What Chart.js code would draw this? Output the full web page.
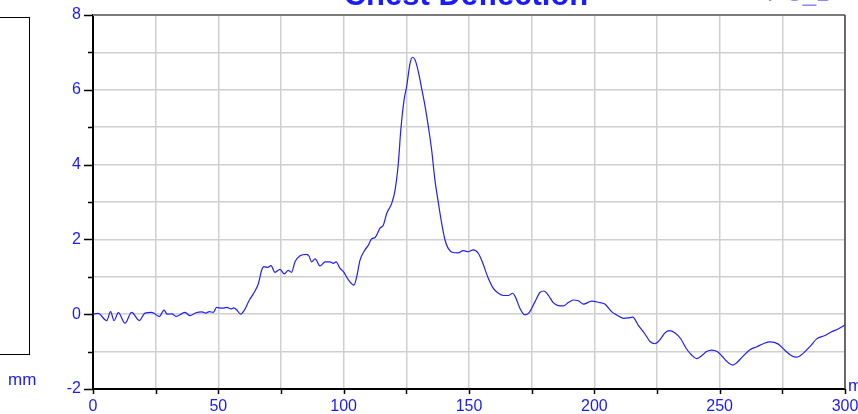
<!DOCTYPE html>
<html>
<head>
<meta charset="utf-8">
<script src="https://cdn.jsdelivr.net/npm/chart.js@4/dist/chart.umd.min.js"></script>
<style>
  body { margin: 0; background: #fff; }
  canvas { display: block; }
</style>
</head>
<body>
<canvas id="chestChart" width="858" height="414"></canvas>
<script>
// waktu (ms) dan defleksi dada (mm)
const timeMs = [
  0, 2, 5.5, 7, 8.4, 10.1, 12.8, 15.4, 18.5, 20.7, 23.4, 26.5, 28.3, 29.6, 31.5, 33.1,
  36.7, 38.7, 41.1, 43.5, 45, 46.4, 48, 49.3, 51.4, 53.5, 55, 56.2, 57.3, 58.9, 60.3,
  62.4, 64, 66, 67.3, 68.2, 69.8, 71, 72.6, 74.6, 76.3, 77.9, 79.2, 80.6, 82.6, 85.2,
  86.2, 87.2, 88.6, 90.6, 92.6, 94.5, 95.9, 97, 98.5, 99.9, 101.9, 104.1, 105.2, 106.5,
  108.5, 109.8, 111.2, 112.5, 114.5, 115.8, 117.2, 119.2, 120.5, 121.8, 122.8, 124.1,
  125.1, 126.5, 127.4, 128.5, 129.8, 131.1, 132.5, 133.8, 135.1, 136.4, 137.8, 139.1,
  140.4, 141.7, 143.6, 145.7, 147.7, 149.7, 151.7, 153.7, 155.3, 157.7, 159.7, 161.7,
  163.7, 165.7, 167.4, 168.7, 170.3, 172.3, 174, 176.3, 178.3, 179.9, 181.6, 183.6,
  185.6, 187.6, 189.6, 191.6, 193.6, 195.7, 198.9, 201.6, 204.2, 206.9, 208.9, 211.6,
  213.6, 215.3, 217.5, 220.2, 222.2, 224.2, 226.2, 228.2, 229.9, 232.2, 234.4, 236.8,
  238.8, 240.8, 242.8, 244.8, 246.8, 249, 250.8, 252.8, 255.2, 256.8, 258.1, 262.1,
  264.8, 267.4, 270.1, 273.4, 276.1, 278.7, 280.7, 283.4, 286.1, 288.7, 292, 294.7,
  297.4, 300
];
const chestDeflection = [
  0, 0.02, -0.17, 0.07, -0.17, 0.04, -0.24, 0.05, -0.17, 0.03, 0.05, -0.06, 0.11, 0.0, 0.01, -0.06,
  0.05, -0.04, 0.04, 0.06, 0.03, 0.07, 0.05, 0.18, 0.16, 0.18, 0.14, 0.17, 0.12, 0.0, 0.1,
  0.38, 0.55, 0.82, 1.18, 1.27, 1.25, 1.30, 1.12, 1.20, 1.08, 1.17, 1.12, 1.40, 1.56, 1.60,
  1.55, 1.40, 1.48, 1.29, 1.40, 1.40, 1.36, 1.40, 1.23, 1.14, 0.92, 0.78, 1.0, 1.44,
  1.72, 1.84, 2.02, 2.05, 2.30, 2.38, 2.70, 2.97, 3.32, 4.03, 4.93, 5.73,
  6.08, 6.71, 6.87, 6.80, 6.48, 6.04, 5.55, 5.01, 4.39, 3.59, 2.97, 2.43,
  1.99, 1.76, 1.65, 1.64, 1.70, 1.67, 1.72, 1.63, 1.40, 0.96, 0.69, 0.56,
  0.50, 0.50, 0.56, 0.43, 0.16, -0.02, 0.04, 0.33, 0.58, 0.62, 0.51, 0.31,
  0.23, 0.22, 0.31, 0.38, 0.36, 0.27, 0.35, 0.32, 0.27, 0.07, -0.02, -0.11,
  -0.10, -0.08, -0.29, -0.53, -0.73, -0.79, -0.68, -0.50, -0.44, -0.50, -0.65, -0.93,
  -1.09, -1.19, -1.11, -1.00, -0.96, -1.00, -1.11, -1.26, -1.36, -1.30, -1.21, -0.95,
  -0.87, -0.79, -0.74, -0.80, -0.97, -1.11, -1.15, -1.04, -0.86, -0.66, -0.57, -0.47,
  -0.39, -0.29
];
const xLabels = [0, 50, 100, 150, 200, 250, 300];
const yLabels = [-2, 0, 2, 4, 6, 8];

const blue = '#1a1aff';
const gridGray = '#cfcfcf';

// gambar bingkai, tick, judul, dan teks tambahan
const framePlugin = {
  id: 'frame',
  afterDraw(chart) {
    const ctx = chart.ctx;
    const a = chart.chartArea;
    const xs = chart.scales.x, ys = chart.scales.y;
    ctx.save();
    // border atas dan kanan
    ctx.strokeStyle = '#7a7a7a';
    ctx.lineWidth = 2;
    ctx.beginPath();
    ctx.moveTo(a.left, a.top);
    ctx.lineTo(a.right, a.top);
    ctx.stroke();
    ctx.strokeStyle = '#444';
    ctx.lineWidth = 1.5;
    ctx.beginPath();
    ctx.moveTo(a.right, a.top);
    ctx.lineTo(a.right, a.bottom);
    ctx.stroke();
    // tick kiri (besar di label, kecil di antara)
    ctx.strokeStyle = '#000';
    ctx.lineWidth = 1.5;
    for (let v = -2; v <= 8; v++) {
      const py = Math.round(ys.getPixelForValue(v)) + 0.5;
      const len = yLabels.includes(v) ? 9 : 5;
      ctx.beginPath();
      ctx.moveTo(a.left - len, py);
      ctx.lineTo(a.left, py);
      ctx.stroke();
    }
    // tick bawah
    for (let v = 0; v <= 300; v += 25) {
      const px = Math.round(xs.getPixelForValue(v)) + 0.5;
      ctx.beginPath();
      ctx.moveTo(px, a.bottom);
      ctx.lineTo(px, a.bottom + 5);
      ctx.stroke();
    }
    // kotak legend di kiri
    ctx.strokeStyle = '#000';
    ctx.lineWidth = 1;
    ctx.strokeRect(-2, 17.5, 31.5, 337);
    // label satuan
    ctx.fillStyle = blue;
    ctx.font = '17px "Liberation Sans", Arial, sans-serif';
    ctx.textBaseline = 'alphabetic';
    ctx.textAlign = 'left';
    ctx.fillText('mm', 8, 385);
    ctx.fillText('ms', 848, 391);
    // judul (terpotong di atas)
    ctx.font = 'bold 31px "Liberation Sans", Arial, sans-serif';
    ctx.textAlign = 'center';
    ctx.fillText('Chest Deflection', 466, 5);
    ctx.fillStyle = '#8a8aff';
    ctx.font = '24px "Liberation Sans", Arial, sans-serif';
    ctx.fillText('T\u2011C_1\u2011', 800, 1);
    ctx.restore();
  }
};

const ctx = document.getElementById('chestChart').getContext('2d');
new Chart(ctx, {
  type: 'line',
  data: {
    datasets: [{
      label: 'Chest Deflection',
      data: timeMs.map((t, i) => ({ x: t, y: chestDeflection[i] })),
      borderColor: '#1f1fff',
      borderWidth: 1.2,
      pointRadius: 0,
      cubicInterpolationMode: 'monotone',
      fill: false
    }]
  },
  options: {
    responsive: false,
    animation: false,
    layout: { padding: { top: 15, right: 13, left: 0, bottom: 0 } },
    plugins: {
      legend: { display: false },
      title: { display: false },
      tooltip: { enabled: false }
    },
    scales: {
      x: {
        type: 'linear',
        min: 0,
        max: 300,
        afterFit(scale) {
          scale.height = 25;
          scale.paddingLeft = 0;
          scale.paddingRight = 0;
        },
        afterBuildTicks(scale) {
          const t = [];
          for (let v = 0; v <= 300; v += 25) t.push({ value: v });
          scale.ticks = t;
        },
        ticks: {
          color: blue,
          padding: 8,
          maxRotation: 0,
          autoSkip: false,
          font: { family: '"Liberation Sans", Arial, sans-serif', size: 16 },
          callback: v => xLabels.includes(v) ? String(v) : ''
        },
        grid: { color: gridGray, lineWidth: 1.5, drawTicks: false },
        border: { color: '#000', width: 2 }
      },
      y: {
        min: -2,
        max: 8,
        afterFit(scale) {
          scale.width = 93;
          scale.paddingTop = 0;
          scale.paddingBottom = 0;
        },
        afterBuildTicks(scale) {
          const t = [];
          for (let v = -2; v <= 8; v++) t.push({ value: v });
          scale.ticks = t;
        },
        ticks: {
          color: blue,
          padding: 12,
          autoSkip: false,
          font: { family: '"Liberation Sans", Arial, sans-serif', size: 16 },
          callback: v => yLabels.includes(v) ? String(v) : ''
        },
        grid: { color: gridGray, lineWidth: 1.5, drawTicks: false },
        border: { color: '#000', width: 2 }
      }
    }
  },
  plugins: [framePlugin]
});
</script>
</body>
</html>
